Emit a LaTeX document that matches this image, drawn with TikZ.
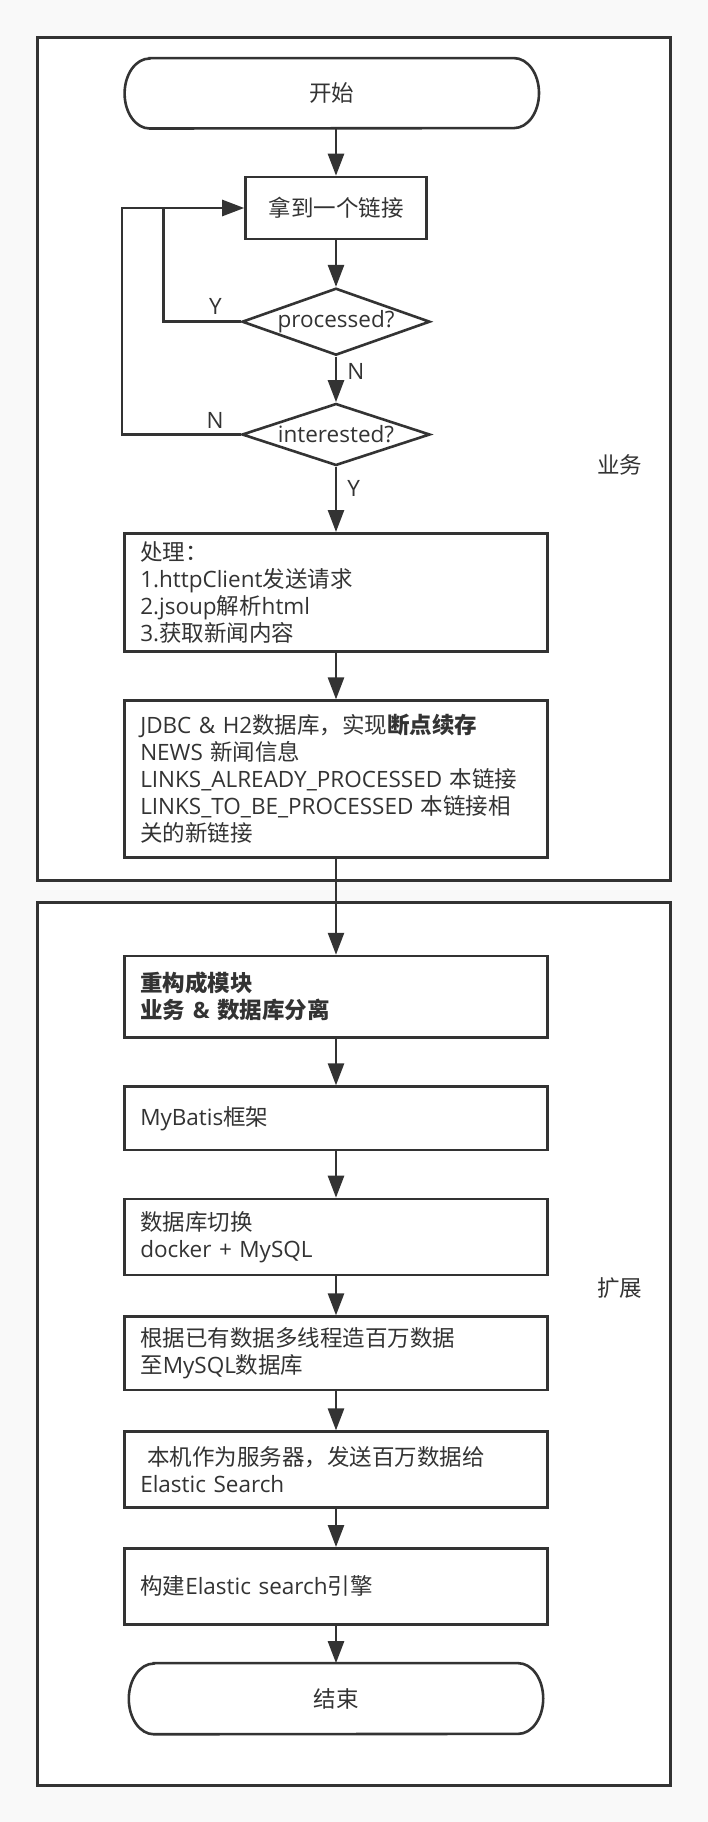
\documentclass[tikz,border=0pt]{standalone}
\usepackage{fontspec}
\setmainfont{Open Sans}
\newfontfamily\zhfont{Noto Sans CJK SC}
\newcommand{\zh}[1]{{\zhfont #1}}
\usetikzlibrary{arrows.meta,shapes.geometric}
\definecolor{ink}{HTML}{333333}
\definecolor{bgc}{HTML}{F9F9F9}
\begin{document}
\begin{tikzpicture}[x=1pt,y=-1pt,
  every node/.style={font=\fontsize{22.5}{27}\selectfont, text=ink},
  frame/.style={draw=ink, line width=3pt, fill=white},
  stepbox/.style={draw=ink, line width=2.6pt, fill=white, minimum width=423.5pt,
     text width=391.5pt, inner xsep=16pt, inner ysep=0pt, align=left},
  linkbox/.style={draw=ink, line width=2.6pt, fill=white, minimum width=181pt, minimum height=62pt, inner sep=0pt},
  dia/.style={draw=ink, line width=2.6pt, fill=white, shape=diamond, minimum width=188pt, inner sep=0pt},
  termtext/.style={minimum width=414pt, minimum height=70pt, inner sep=0pt},
  term/.style={draw=ink, line width=2.6pt, fill=white},
  arr/.style={draw=ink, line width=2.6pt, -{Triangle[length=22pt,width=16pt]}},
  conn/.style={draw=ink, line width=2.6pt},
  lbl/.style={inner sep=0pt},
  grp/.style={inner sep=0pt}
]
\fill[bgc] (0,0) rectangle (708,1822);
\useasboundingbox (0,0) rectangle (708,1822);

% frames
\draw[frame] (37.5,37.5) rectangle (670.5,880);
\draw[frame] (37.5,902) rectangle (670.5,1785);
\node[grp] (g1) at (619.5,465) {\zh{业务}};
\node[grp] (g2) at (619.5,1288) {\zh{扩展}};

% start terminator
\node[termtext] (s) at (331.8,93.3) {};
\draw[term] ([xshift=25pt]s.north west) -- ([xshift=-25pt]s.north east)
  arc[start angle=90, end angle=-90, x radius=25pt, y radius=35pt]
  -- ([xshift=25pt]s.south west)
  arc[start angle=270, end angle=90, x radius=25pt, y radius=35pt] -- cycle;
\node[termtext] (st) at (331.8,93.3) {\zh{开始}};

\node[linkbox] (l) at (336,208) {\zh{拿到一个链接}};
\node[dia, minimum height=67pt] (p) at (336,321.7) {\makebox[0pt]{processed?}};
\node[dia, minimum height=62pt] (i) at (336,434.5) {\makebox[0pt]{interested?}};

\node[stepbox, minimum height=118.4pt] (h) at (336,592.5)
  {\zh{处理：}\\1.httpClient\zh{发送请求}\\2.jsoup\zh{解析}html\\3.\zh{获取新闻内容}};
\node[stepbox, minimum height=156.6pt] (d) at (336,779)
  {JDBC \& H2\zh{数据库，实现}\textbf{\zh{断点续存}}\\NEWS \zh{新闻信息}\\LINKS\_ALREADY\_PROCESSED \zh{本链接}\\LINKS\_TO\_BE\_PROCESSED \zh{本链接相}\\\zh{关的新链接}};

\node[stepbox, minimum height=81.3pt] (r) at (336,996.7)
  {\textbf{\zh{重构成模块}}\\\textbf{\zh{业务} \& \zh{数据库分离}}};
\node[stepbox, minimum height=63.3pt] (m) at (336,1118.3) {MyBatis\zh{框架}};
\node[stepbox, minimum height=76pt] (q) at (336,1237) {\zh{数据库切换}\\docker + MySQL};
\node[stepbox, minimum height=73.3pt] (g) at (336,1353.3) {\zh{根据已有数据多线程造百万数据}\\\zh{至}MySQL\zh{数据库}};
\node[stepbox, minimum height=75.6pt] (e) at (336,1469.5) {\hspace*{7pt}\zh{本机作为服务器，发送百万数据给}\\Elastic Search};
\node[stepbox, minimum height=76pt] (b) at (336,1586.3) {\zh{构建}Elastic search\zh{引擎}};

% end terminator
\node[termtext, minimum height=70.7pt] (t) at (336,1698.7) {};
\draw[term] ([xshift=25pt]t.north west) -- ([xshift=-25pt]t.north east)
  arc[start angle=90, end angle=-90, x radius=25pt, y radius=35.35pt]
  -- ([xshift=25pt]t.south west)
  arc[start angle=270, end angle=90, x radius=25pt, y radius=35.35pt] -- cycle;
\node[termtext, minimum height=70.7pt] (tt) at (336,1698.7) {\zh{结束}};

% loop corners
\coordinate (c1) at (163.3,208);
\coordinate (c2) at (122,208);

% connectors
\draw[arr] (s.south -| l.north) -- (l.north);
\draw[arr] (l.south) -- (p.north);
\draw[arr] (p.south) -- node[lbl, pos=0.32, anchor=west, xshift=10pt] (ln1) {N} (i.north);
\draw[arr] (i.south) -- node[lbl, pos=0.33, anchor=west, xshift=10pt] (ly2) {Y} (h.north);
\draw[arr] (h.south) -- (d.north);
\draw[arr] (d.south) -- (r.north);
\draw[arr] (r.south) -- (m.north);
\draw[arr] (m.south) -- (q.north);
\draw[arr] (q.south) -- (g.north);
\draw[arr] (g.south) -- (e.north);
\draw[arr] (e.south) -- (b.north);
\draw[arr] (b.south) -- (t.north);

\draw[conn] (i.west) -- node[lbl, pos=0.215, anchor=south, yshift=5pt] (ln2) {N} (i.west -| c2) -- (c2) -- (c1);
\draw[arr] (p.west) -- node[lbl, pos=0.325, anchor=south, yshift=6pt] (ly1) {Y} (p.west -| c1) -- (c1) -- (l.west);
\end{tikzpicture}
\end{document}
